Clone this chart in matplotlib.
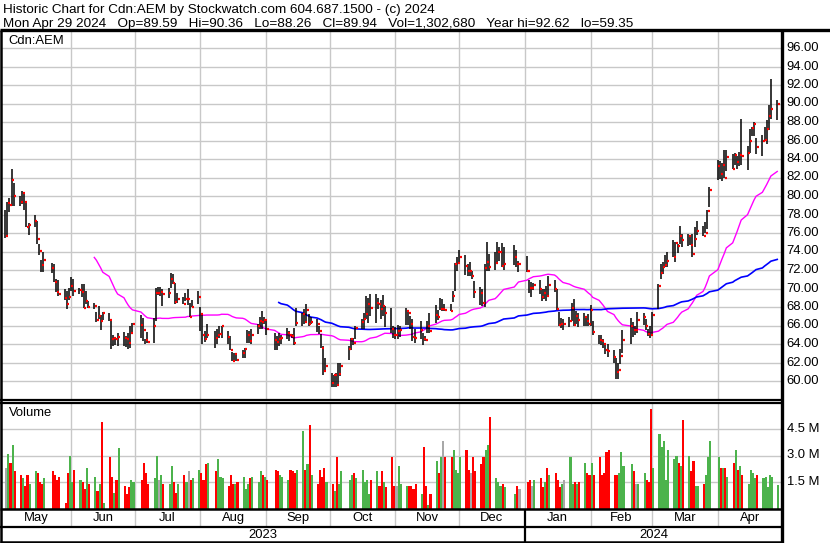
import matplotlib
matplotlib.use('Agg')
import matplotlib.pyplot as plt
import matplotlib.dates as mdates
import matplotlib.transforms as mtrans
from matplotlib.lines import Line2D
import numpy as np
import pandas as pd

plt.rcParams['font.family'] = ['Liberation Sans', 'DejaVu Sans']

# ---------------- data ----------------
holidays = ['2023-05-22', '2023-07-03', '2023-08-07', '2023-09-04', '2023-10-09',
            '2023-12-25', '2023-12-26', '2024-01-01', '2024-02-19', '2024-03-29']

close_may = [75.7, 79.2, 79.0, 81.7, 80.0, 79.4, 80.3, 79.3, 76.6, 76.9, 77.3, 75.3, 74.1, 72.5, 73.1, 72.2, 70.7, 69.6, 69.4, 69.0, 68.3, 69.1]
high_may = [78.5, 79.3, 79.8, 82.9, 81.4, 80.0, 80.5, 80.3, 79.3, 77.1, 78.0, 77.3, 74.8, 73.1, 73.9, 72.8, 72.7, 71.0, 70.9, 69.9, 69.7, 70.1]
low_may = [75.5, 75.7, 78.3, 78.9, 78.9, 78.9, 79.1, 78.5, 76.6, 75.8, 76.7, 74.8, 73.6, 71.8, 71.8, 71.7, 70.7, 69.6, 69.2, 68.8, 67.8, 68.8]

close_jun = [70.3, 69.7, 69.8, 69.6, 67.9, 68.7, 68.0, 68.1, 66.6, 67.0, 66.5, 67.4, 66.6, 64.5, 64.6, 64.5, 64.8, 64.7, 64.5, 64.1, 65.2, 66.2]
high_jun = [71.2, 71.0, 70.1, 70.5, 70.5, 69.7, 68.6, 68.4, 67.5, 68.1, 67.1, 67.5, 67.3, 66.5, 65.0, 64.7, 65.2, 65.3, 64.9, 65.2, 66.0, 66.3]
low_jun = [69.7, 69.2, 69.4, 69.1, 67.9, 68.3, 67.9, 67.8, 66.4, 66.7, 65.5, 66.6, 66.5, 63.5, 63.8, 63.9, 63.8, 63.8, 63.7, 63.5, 63.6, 65.2]

close_jul = [66.1, 65.5, 64.4, 64.2, 65.9, 69.5, 69.5, 69.6, 69.4, 69.5, 71.0, 70.6, 68.5, 68.9, 68.3, 68.9, 68.9, 66.9, 68.0, 69.1]
high_jul = [67.1, 66.8, 64.5, 65.3, 66.8, 70.1, 70.2, 70.2, 69.9, 70.1, 71.7, 71.6, 70.6, 69.5, 69.1, 69.5, 69.9, 68.4, 68.8, 69.7]
low_jul = [64.7, 64.3, 64.0, 64.1, 64.1, 66.5, 69.3, 69.2, 68.1, 69.0, 70.1, 70.5, 68.3, 68.4, 68.3, 68.6, 68.2, 66.9, 68.0, 68.3]

close_aug = [67.2, 65.0, 64.5, 65.0, 64.6, 65.0, 65.1, 66.0, 64.8, 63.3, 62.2, 62.9, 62.3, 63.0, 63.5, 65.0, 64.3, 65.0, 66.0, 66.5, 66.4, 66.6]
high_aug = [68.0, 67.1, 65.4, 66.2, 65.4, 65.6, 66.0, 66.0, 65.4, 64.9, 63.1, 63.0, 63.0, 63.4, 63.6, 65.5, 65.4, 65.6, 66.2, 66.9, 67.6, 66.9]
low_aug = [65.4, 64.0, 64.2, 64.7, 63.6, 64.0, 64.7, 64.7, 64.0, 63.3, 62.2, 62.2, 62.2, 62.5, 62.5, 64.1, 64.1, 64.0, 65.1, 65.6, 65.6, 66.2]

close_sep = [65.6, 64.4, 64.2, 64.5, 64.6, 65.2, 65.0, 64.9, 64.1, 66.3, 67.2, 66.4, 67.7, 66.2, 66.4, 66.2, 65.4, 63.6, 61.1, 61.6]
high_sep = [66.7, 65.2, 64.9, 65.2, 65.0, 65.7, 65.4, 65.1, 65.7, 67.9, 67.3, 67.8, 68.3, 67.2, 66.9, 66.7, 66.0, 65.1, 63.8, 62.5]
low_sep = [65.0, 63.4, 63.4, 63.8, 64.0, 64.5, 64.3, 64.6, 63.9, 65.9, 65.9, 66.2, 66.3, 66.0, 66.2, 65.3, 65.1, 63.6, 60.7, 61.2]

close_oct = [59.8, 60.7, 59.6, 60.8, 61.6, 63.5, 64.5, 64.1, 65.7, 66.4, 66.7, 67.2, 68.3, 67.9, 68.4, 68.3, 67.8, 68.1, 67.4, 65.6, 65.0]
high_oct = [60.9, 60.7, 60.9, 62.0, 62.0, 63.8, 64.7, 64.7, 65.9, 66.7, 67.4, 69.2, 69.0, 69.4, 69.4, 69.0, 68.8, 69.3, 68.1, 67.9, 65.9]
low_oct = [59.4, 59.4, 59.35, 59.6, 60.5, 62.3, 63.4, 63.9, 64.5, 65.6, 65.6, 66.7, 66.3, 67.0, 66.3, 67.8, 66.7, 67.0, 65.8, 65.2, 64.7]

close_nov = [65.0, 65.4, 65.5, 67.6, 67.3, 66.2, 64.8, 64.7, 65.5, 64.5, 64.4, 66.0, 65.4, 67.1, 66.9, 67.8, 67.8, 67.7, 67.6, 69.2, 72.6, 72.8]
high_nov = [65.8, 66.1, 65.9, 67.9, 67.6, 67.0, 66.7, 65.6, 66.5, 65.2, 64.9, 66.5, 67.4, 68.2, 67.7, 69.0, 68.9, 68.3, 68.3, 69.7, 72.8, 73.4]
low_nov = [64.5, 64.5, 64.8, 66.1, 66.1, 65.6, 64.3, 64.1, 64.5, 63.9, 64.3, 65.2, 65.2, 66.3, 66.6, 67.7, 67.6, 67.6, 67.6, 68.5, 69.7, 71.9]

close_dec = [73.4, 72.4, 71.9, 71.9, 71.4, 69.6, 69.5, 68.4, 72.2, 72.9, 72.3, 72.8, 73.9, 74.0, 72.4, 72.6, 73.4, 72.6, 72.6]
high_dec = [74.2, 73.6, 72.6, 72.9, 71.9, 70.8, 70.2, 70.0, 72.6, 75.0, 73.7, 74.0, 75.0, 74.5, 74.9, 74.5, 74.7, 74.2, 73.0]
low_dec = [72.7, 71.5, 71.3, 71.3, 71.0, 69.0, 68.2, 68.1, 68.0, 71.9, 71.9, 72.0, 72.8, 73.0, 72.3, 72.0, 72.5, 72.3, 71.8]

close_jan = [71.9, 70.1, 70.1, 70.4, 70.0, 69.1, 69.5, 69.2, 70.4, 70.0, 67.8, 66.1, 66.2, 66.2, 66.5, 67.9, 66.1, 67.0, 66.6, 66.9, 66.5, 66.2]
high_jan = [73.5, 70.9, 70.7, 70.6, 70.9, 70.0, 70.0, 70.3, 71.3, 70.9, 70.0, 67.5, 66.8, 66.7, 66.9, 68.4, 68.9, 67.6, 67.4, 67.3, 66.9, 67.2]
low_jan = [71.8, 69.5, 69.1, 69.8, 69.4, 68.6, 68.9, 68.6, 69.2, 69.6, 67.7, 65.9, 65.7, 65.5, 65.8, 66.5, 65.9, 66.2, 65.8, 66.0, 66.0, 65.9]

close_feb = [67.7, 65.3, 64.4, 64.3, 64.0, 63.3, 63.2, 62.6, 61.0, 61.2, 62.7, 64.4, 65.9, 65.5, 65.5, 66.6, 66.9, 65.9, 65.1, 65.0]
high_feb = [68.2, 66.5, 65.0, 65.0, 64.5, 64.0, 64.0, 63.3, 62.5, 62.0, 63.5, 65.5, 66.8, 66.4, 66.0, 67.5, 67.3, 66.7, 65.6, 66.0]
low_feb = [66.0, 65.0, 64.0, 63.9, 63.6, 62.9, 62.6, 62.0, 60.2, 60.2, 61.8, 63.0, 64.0, 64.8, 65.0, 65.2, 66.1, 65.5, 64.9, 64.6]

close_mar = [67.1, 70.3, 71.7, 72.3, 72.5, 73.0, 73.4, 74.9, 74.6, 75.7, 75.2, 75.7, 74.7, 73.7, 75.3, 76.2, 75.7, 76.0, 78.4, 80.7]
high_mar = [67.5, 70.5, 72.6, 72.9, 73.6, 73.9, 75.2, 75.0, 74.8, 76.8, 75.9, 75.9, 75.7, 75.9, 76.6, 77.3, 76.8, 77.2, 78.5, 81.0]
low_mar = [65.1, 67.8, 71.0, 71.6, 72.3, 72.3, 73.4, 72.9, 73.8, 74.8, 74.5, 74.6, 74.7, 73.4, 74.5, 75.8, 75.7, 76.0, 76.4, 78.8]

close_apr = [83.2, 82.4, 83.4, 82.0, 84.2, 82.9, 84.4, 83.7, 84.4, 84.3, 84.6, 86.0, 87.3, 87.8, 85.3, 85.9, 86.1, 87.2, 88.7, 89.4, 89.94]
high_apr = [83.9, 83.8, 83.6, 85.0, 85.0, 84.5, 84.6, 84.3, 84.8, 88.3, 85.4, 87.2, 87.5, 88.0, 86.3, 86.6, 87.5, 88.2, 89.8, 92.62, 90.36]
low_apr = [81.7, 81.8, 81.6, 82.0, 82.7, 82.9, 83.3, 82.9, 83.2, 83.4, 82.8, 84.6, 86.5, 86.5, 84.5, 84.3, 86.0, 85.6, 87.1, 88.3, 88.26]

# volume in millions of shares
vol_may = [2.3, 3.1, 2.6, 3.6, 2.1, 1.9, 1.7, 1.3, 1.9, 1.4, 2.1, 2.0, 1.5, 1.4, 1.7, 2.1, 1.9, 1.6, 1.8, 0.3, 2.0, 3.0]
vol_jun = [1.5, 2.2, 1.6, 1.5, 1.1, 2.3, 1.4, 1.8, 1.0, 1.4, 4.9, 0.3, 2.9, 1.8, 0.9, 1.6, 3.4, 1.3, 0.8, 1.2, 1.6, 1.5]
vol_jul = [1.6, 2.6, 2.0, 1.4, 1.7, 3.0, 1.6, 1.9, 1.4, 1.4, 2.4, 1.5, 0.9, 1.4, 1.9, 1.5, 2.1, 1.6, 1.7, 2.2]
vol_aug = [2.0, 1.6, 2.5, 2.6, 2.1, 2.8, 1.8, 1.7, 1.3, 1.9, 1.4, 1.4, 1.5, 1.8, 1.1, 1.4, 1.7, 1.8, 1.5, 2.1, 1.9, 1.8]
vol_sep = [1.6, 2.2, 2.1, 1.9, 1.8, 1.6, 2.2, 2.1, 2.0, 2.2, 4.4, 2.2, 2.5, 4.7, 1.9, 1.4, 2.2, 1.8, 2.3, 1.5]
vol_oct = [1.4, 1.0, 2.9, 1.4, 2.1, 1.6, 1.9, 2.0, 1.7, 2.2, 1.5, 1.6, 0.8, 1.6, 2.1, 1.3, 2.1, 1.5, 1.2, 2.9, 1.3]
vol_nov = [1.3, 2.4, 1.4, 1.3, 1.3, 1.3, 1.1, 1.4, 0.8, 3.5, 1.3, 0.2, 0.8, 2.7, 2.0, 2.9, 3.8, 2.9, 2.9, 3.3, 2.2, 2.0]
vol_dec = [2.9, 3.3, 2.2, 2.0, 2.9, 2.1, 2.5, 2.9, 3.3, 3.6, 5.2, 1.7, 1.5, 1.3, 1.4, 1.2, 0.8, 1.3, 1.1]
vol_jan = [1.5, 1.6, 1.3, 1.6, 1.7, 1.2, 1.5, 2.3, 1.9, 2.0, 1.6, 1.2, 1.4, 1.6, 2.9, 1.4, 1.5, 1.4, 1.5, 2.6, 2.0, 1.9]
vol_feb = [2.6, 1.9, 2.9, 1.9, 2.0, 3.2, 3.3, 1.9, 1.9, 2.0, 3.2, 2.4, 2.5, 2.1, 1.4, 1.4, 2.0, 1.6, 1.5, 5.65]
vol_mar = [2.3, 4.2, 3.5, 3.8, 1.6, 3.3, 2.8, 3.0, 2.6, 2.4, 5.0, 3.0, 2.1, 2.7, 1.3, 1.3, 1.4, 1.9, 2.9, 3.8]
vol_apr = [2.9, 2.3, 2.3, 2.3, 1.8, 2.6, 3.3, 2.2, 2.4, 1.9, 1.4, 2.2, 2.0, 1.7, 1.9, 1.7, 1.8, 1.2, 1.9, 1.8, 1.30268]

price_ticks = [60, 62, 64, 66, 68, 70, 72, 74, 76, 78, 80, 82, 84, 86, 88, 90, 92, 94, 96]
vol_ticks = [1.5, 3.0, 4.5]
vol_tick_labels = ['1.5 M', '3.0 M', '4.5 M']
month_labels = ['May', 'Jun', 'Jul', 'Aug', 'Sep', 'Oct', 'Nov', 'Dec', 'Jan', 'Feb', 'Mar', 'Apr']
year_labels = ['2023', '2024']
title_1 = 'Historic Chart for Cdn:AEM by Stockwatch.com 604.687.1500 - (c) 2024'
title_2 = 'Mon Apr 29 2024   Op=89.59   Hi=90.36   Lo=88.26   Cl=89.94   Vol=1,302,680   Year hi=92.62   lo=59.35'

# ---------------- assemble ----------------
dates = pd.bdate_range('2023-05-01', '2024-04-29', freq='C', holidays=holidays)
close = np.array(close_may + close_jun + close_jul + close_aug + close_sep + close_oct +
                 close_nov + close_dec + close_jan + close_feb + close_mar + close_apr)
high = np.array(high_may + high_jun + high_jul + high_aug + high_sep + high_oct +
                high_nov + high_dec + high_jan + high_feb + high_mar + high_apr)
low = np.array(low_may + low_jun + low_jul + low_aug + low_sep + low_oct +
               low_nov + low_dec + low_jan + low_feb + low_mar + low_apr)
vol = np.array(vol_may + vol_jun + vol_jul + vol_aug + vol_sep + vol_oct +
               vol_nov + vol_dec + vol_jan + vol_feb + vol_mar + vol_apr)
n = min(len(dates), len(close), len(high), len(low), len(vol))
dates, close, high, low, vol = dates[:n], close[:n], high[:n], low[:n], vol[:n]
xd = mdates.date2num(dates)

cs = pd.Series(close)
ma30 = cs.rolling(30).mean().values
ma90 = cs.rolling(90).mean().values

chg = np.diff(close, prepend=np.nan)
vcol = np.where(chg > 0, '#4cb34c', np.where(chg < 0, '#ff0000', '#a8a8a8'))

# ---------------- figure ----------------
W, H = 830, 543
fig = plt.figure(figsize=(W / 100, H / 100), dpi=100)
fig.patch.set_facecolor('white')
FS = 9.4


def ax_px(x0, y0, x1, y1):
    a = fig.add_axes([x0 / W, 1 - y1 / H, (x1 - x0) / W, (y1 - y0) / H])
    for s in a.spines.values():
        s.set_visible(False)
    a.set_xticks([])
    a.set_yticks([])
    a.patch.set_alpha(0)
    return a


start = mdates.date2num(pd.Timestamp('2023-05-01'))
ppd = 2.121          # pixels per calendar day
x_first = 5.2        # pixel x of 2023-05-01
LX, RX = 1.5, 782.0
xlim = (start + (LX - x_first) / ppd, start + (RX - x_first) / ppd)
month_starts = mdates.date2num(pd.date_range('2023-06-01', '2024-04-01', freq='MS'))
month_bounds = np.concatenate([[xlim[0]], month_starts, [xlim[1]]])
jan1 = mdates.date2num(pd.Timestamp('2024-01-01'))
grid_c = '#c8c8c8'

# price panel
axp = ax_px(LX, 31, RX, 400)
axp.set_xlim(xlim)
axp.set_ylim(96 - (400 - 48) / 9.25, 96 + (48 - 31) / 9.25)
for p in price_ticks:
    axp.axhline(p, color=grid_c, lw=1.0, zorder=1)
for m in month_starts:
    axp.axvline(m, color=grid_c, lw=1.0, zorder=1)
axp.plot(xd, ma30, color='#ff00ff', lw=1.0, zorder=2)
axp.plot(xd, ma90, color='#0000ff', lw=1.2, zorder=2)
axp.vlines(xd, low, high, color='black', lw=1.1, zorder=3)
axp.hlines(close, xd + 0.25, xd + 1.2, color='#ff0000', lw=1.6, zorder=4)
fig.text(8 / W, 1 - 41.5 / H, 'Cdn:AEM', fontsize=FS, va='center', ha='left')
tp = mtrans.blended_transform_factory(fig.transFigure, axp.transData)
for p in price_ticks:
    axp.text(786 / W, p, f'{p:.2f}', transform=tp, fontsize=FS, va='center', ha='left',
             clip_on=False)

# volume panel
axv = ax_px(LX, 402.5, RX, 508.5)
axv.set_xlim(xlim)
axv.set_ylim(0, 1.5 * (506.5 - 402.5) / 26.0)
for v in vol_ticks:
    axv.axhline(v, color=grid_c, lw=1.0, zorder=1)
for m in month_starts:
    axv.axvline(m, color=grid_c, lw=1.0, zorder=1)
axv.bar(xd + 0.5, vol, width=1.0, color=vcol, linewidth=0, zorder=2)
fig.text(9 / W, 1 - 413 / H, 'Volume', fontsize=FS, va='center', ha='left')
tv = mtrans.blended_transform_factory(fig.transFigure, axv.transData)
for v, lab in zip(vol_ticks, vol_tick_labels):
    axv.text(787 / W, v, lab, transform=tv, fontsize=FS, va='center', ha='left',
             clip_on=False)

# month row
axm = ax_px(LX, 509, RX, 526.5)
axm.set_xlim(xlim)
axm.set_ylim(0, 1)
for m in month_starts:
    if m != jan1:
        axm.axvline(m, color=grid_c, lw=1.0)
for i, lab in enumerate(month_labels):
    axm.text((month_bounds[i] + month_bounds[i + 1]) / 2, 0.5, lab, ha='center',
             va='center', fontsize=FS)

# year row
axy = ax_px(LX, 526.5, RX, 541.5)
axy.set_xlim(xlim)
axy.set_ylim(0, 1)
axy.text((xlim[0] + jan1) / 2, 0.45, year_labels[0], ha='center', va='center', fontsize=FS)
axy.text((jan1 + xlim[1]) / 2, 0.45, year_labels[1], ha='center', va='center', fontsize=FS)

for a in (axm, axy):
    a.axvline(jan1, color='black', lw=1.6)

# title text
fig.text(3 / W, 1 - 9.5 / H, title_1, fontsize=9.7, va='center', ha='left')
fig.text(3 / W, 1 - 23.5 / H, title_2, fontsize=9.7, va='center', ha='left')


def fline(x0, y0, x1, y1, lw):
    fig.add_artist(Line2D([x0 / W, x1 / W], [1 - y0 / H, 1 - y1 / H],
                          transform=fig.transFigure, color='black', lw=lw,
                          solid_capstyle='butt'))


fline(0, 30, W, 30, 2.4)
fline(1, 30, 1, 543, 1.8)
fline(782, 30, 782, 543, 2.4)
fline(0, 400, 782, 400, 1.6)
fline(0, 402.8, 782, 402.8, 1.6)
fline(0, 509, 782, 509, 1.8)
fline(0, 526.7, 782, 526.7, 1.6)
fline(0, 541.5, 782, 541.5, 1.8)

fig.savefig('out.png', dpi=100, facecolor='white')
